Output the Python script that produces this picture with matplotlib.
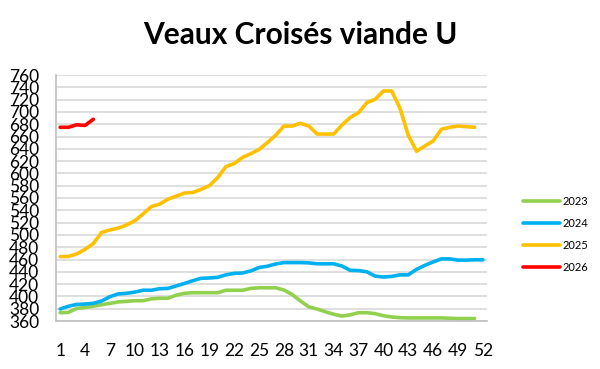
import matplotlib
matplotlib.use("Agg")
import matplotlib.pyplot as plt

title = "Veaux Croisés viande U"
weeks = list(range(1, 53))
xtick_labels = list(range(1, 53, 3))
yticks = list(range(360, 761, 20))

s2023 = [373.5, 374, 380.5, 382, 384, 386.5, 388.7, 391, 392, 393, 393, 396, 397, 397,
         402, 405, 406, 406, 406, 406, 410, 410, 410, 413, 414, 414, 414, 410.4, 403,
         392.5, 383, 379.5, 375, 371, 368, 370, 373.5, 373.5, 372, 368.6, 366.5, 365.4,
         365, 365, 365, 365, 365, 364.5, 364, 364, 364]
s2024 = [379.5, 384, 387, 387.5, 388.7, 392.5, 399.5, 404, 405, 407, 410, 410, 412.5, 413,
         417, 421, 425.5, 429.4, 430, 431, 435, 437.5, 438, 441.5, 447, 449, 452.7, 455,
         455, 455, 454.5, 453, 453, 453, 449.4, 442.4, 442, 440, 433, 431.5, 432.5, 435,
         435, 444, 450.5, 456, 461, 461, 459, 459, 459.5, 459.5]
s2025 = [464.6, 465, 469, 476.5, 486, 504, 508, 511, 516, 523, 534, 546, 550, 558,
         563, 568, 569, 574, 580, 593, 611, 616, 626, 632, 639, 650, 662, 677, 677, 681.5,
         677, 664, 664, 664, 678.7, 691, 698.7, 715, 720.5, 734, 734, 706, 662, 636, 644.6,
         652.7, 671.7, 675, 677, 676, 675]
s2026 = [675, 675, 679, 678, 688]

series = [("2023", s2023, "#92D050"), ("2024", s2024, "#00B0F0"),
          ("2025", s2025, "#FFC000"), ("2026", s2026, "#FF0000")]

plt.rcParams['font.family'] = ['Lato', 'DejaVu Sans']

fig = plt.figure(figsize=(6, 3.69), dpi=100)
ax = fig.add_axes([56/600, 1-321/369, (487-56)/600, (321-75)/369])

for name, vals, col in series:
    ax.plot(weeks[:len(vals)], vals, color=col, lw=2.6, label=name,
            solid_capstyle='round', solid_joinstyle='round')

ax.set_xlim(0.5, 52.5)
ax.set_ylim(360, 760)
ax.set_yticks(yticks)
ax.set_yticklabels([str(v) for v in yticks], fontsize=12.5)
ax.set_xticks(xtick_labels)
ax.set_xticklabels([str(v) for v in xtick_labels], fontsize=12.5)
ax.tick_params(axis='both', length=0)
ax.tick_params(axis='y', pad=12)
ax.tick_params(axis='x', pad=16)
ax.grid(axis='y', color='#d9d9d9', lw=1.2)
ax.set_axisbelow(True)
for sp in ['top', 'right']:
    ax.spines[sp].set_visible(False)
ax.spines['left'].set_color('#bfbfbf')
ax.spines['bottom'].set_color('#bfbfbf')
ax.spines['left'].set_linewidth(1.2)
ax.spines['bottom'].set_linewidth(1.2)

fig.text(0.5, 1-35/369, title, ha='center', va='center', fontsize=21.5, fontweight='bold')

fig.legend(loc='center left', bbox_to_anchor=(523/600, 1-234.5/369), frameon=False,
           fontsize=8, handlelength=3.3, handletextpad=0.3, labelspacing=1.0,
           borderpad=0, borderaxespad=0)

fig.savefig("out.png", dpi=100)
